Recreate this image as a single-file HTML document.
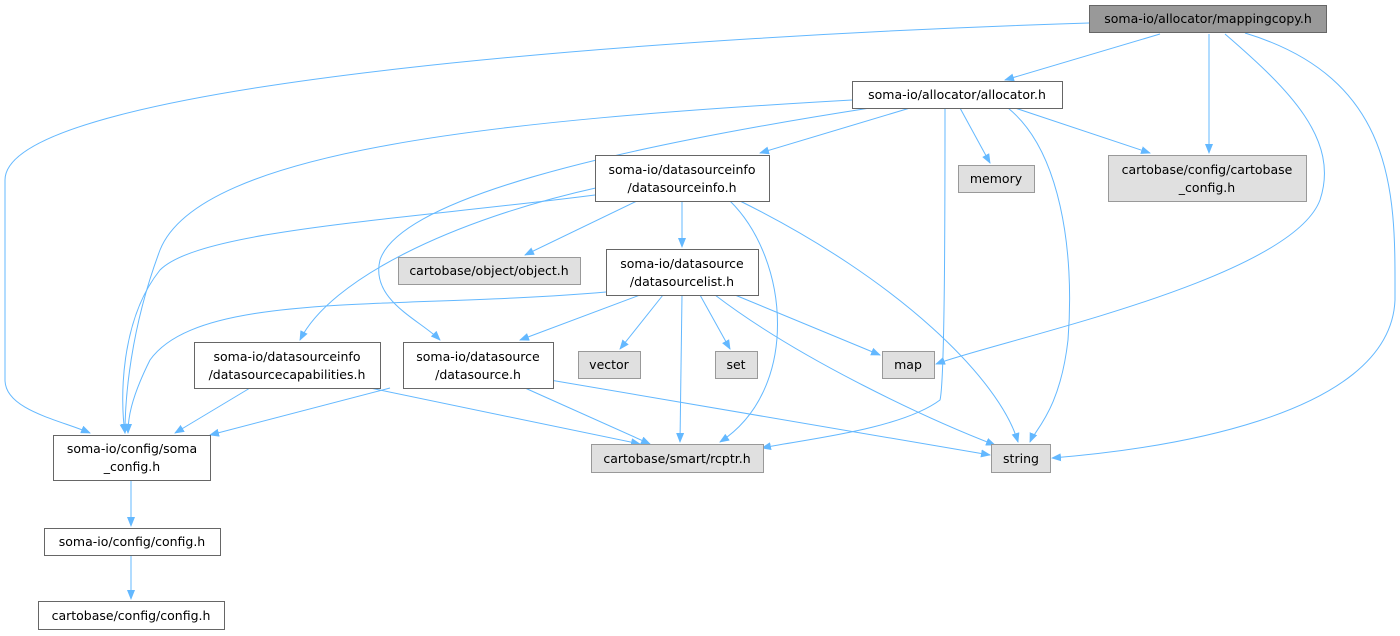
<!DOCTYPE html>
<html><head><meta charset="utf-8"><style>
html,body{margin:0;padding:0;background:#fff;}
svg{display:block;}
text{font-family:"DejaVu Sans","Liberation Sans",sans-serif;font-size:12.5px;fill:#000;}
.n rect{stroke:#666;stroke-width:1;}
.w{fill:#fff;}
.g{fill:#e0e0e0;stroke:#999 !important;}
.e{fill:none;stroke:#63b8ff;stroke-width:1;}
</style></head><body>
<svg width="1400" height="636" viewBox="0 0 1400 636" xmlns="http://www.w3.org/2000/svg">
<defs><marker id="a" markerWidth="10" markerHeight="8" refX="9" refY="4" orient="auto" markerUnits="userSpaceOnUse"><path d="M0,0 L10,4 L0,8 z" fill="#63b8ff"/></marker></defs>
<g marker-end="url(#a)">
<path class="e" d="M1089,23 C700,35 5,80 5,180 L5,380 C5,410 60,420 90,433"/>
<path class="e" d="M1160,34 L1005,80"/>
<path class="e" d="M1209,34 L1209,153"/>
<path class="e" d="M1225,34 C1290,90 1340,140 1320,200 C1290,280 1000,340 936,364"/>
<path class="e" d="M1245,33 C1400,80 1395,200 1395,300 C1390,420 1150,450 1052,458"/>
<path class="e" d="M852,100 C500,120 200,150 160,250 C130,330 125,400 125,433"/>
<path class="e" d="M910,108 L760,153"/>
<path class="e" d="M870,108 C600,150 400,200 380,260 C370,300 420,320 440,340"/>
<path class="e" d="M945,108 C945,200 945,380 940,400 C900,430 800,440 762,448"/>
<path class="e" d="M960,108 L990,163"/>
<path class="e" d="M1008,108 C1060,150 1075,250 1068,340 C1060,410 1035,430 1030,442"/>
<path class="e" d="M1015,108 L1150,153"/>
<path class="e" d="M595,195 C400,220 200,230 160,270 C120,320 120,400 125,433"/>
<path class="e" d="M600,187 C450,220 330,280 300,340"/>
<path class="e" d="M637,201 L525,255"/>
<path class="e" d="M682,201 L682,247"/>
<path class="e" d="M730,201 C790,260 800,390 720,442"/>
<path class="e" d="M740,201 C900,280 1000,380 1018,442"/>
<path class="e" d="M606,292 C400,310 200,290 150,360 C130,400 128,420 128,433"/>
<path class="e" d="M640,295 L520,340"/>
<path class="e" d="M663,295 L620,349"/>
<path class="e" d="M682,295 L680,442"/>
<path class="e" d="M700,295 L730,349"/>
<path class="e" d="M735,295 L880,355"/>
<path class="e" d="M715,295 C800,360 930,420 995,445"/>
<path class="e" d="M250,388 L175,433"/>
<path class="e" d="M370,388 L640,444"/>
<path class="e" d="M390,388 L210,435"/>
<path class="e" d="M525,388 L650,444"/>
<path class="e" d="M550,380 L990,455"/>
<path class="e" d="M131,480 L131,526"/>
<path class="e" d="M131,555 L131,599"/>
</g>
<g class="n">
<rect x="1089.5" y="5.5" width="237" height="27" fill="#999" stroke="#666"/>
<text x="1208" y="23" text-anchor="middle">soma-io/allocator/mappingcopy.h</text>
<rect class="w" x="852.5" y="81.5" width="210" height="27"/>
<text x="957" y="99" text-anchor="middle">soma-io/allocator/allocator.h</text>
<rect class="g" x="1108.5" y="155.5" width="198" height="46"/>
<text x="1207" y="174" text-anchor="middle">cartobase/config/cartobase</text>
<text x="1207" y="192" text-anchor="middle">_config.h</text>
<rect class="g" x="958.5" y="165.5" width="76" height="27"/>
<text x="996" y="183" text-anchor="middle">memory</text>
<rect class="w" x="595.5" y="155.5" width="174" height="46"/>
<text x="682" y="174" text-anchor="middle">soma-io/datasourceinfo</text>
<text x="682" y="192" text-anchor="middle">/datasourceinfo.h</text>
<rect class="g" x="398.5" y="257.5" width="182" height="27"/>
<text x="489" y="275" text-anchor="middle">cartobase/object/object.h</text>
<rect class="w" x="606.5" y="249.5" width="152" height="46"/>
<text x="682" y="268" text-anchor="middle">soma-io/datasource</text>
<text x="682" y="286" text-anchor="middle">/datasourcelist.h</text>
<rect class="w" x="194.5" y="342.5" width="186" height="46"/>
<text x="287" y="361" text-anchor="middle">soma-io/datasourceinfo</text>
<text x="287" y="379" text-anchor="middle">/datasourcecapabilities.h</text>
<rect class="w" x="403.5" y="342.5" width="150" height="46"/>
<text x="478" y="361" text-anchor="middle">soma-io/datasource</text>
<text x="478" y="379" text-anchor="middle">/datasource.h</text>
<rect class="g" x="578.5" y="351.5" width="62" height="27"/>
<text x="609" y="369" text-anchor="middle">vector</text>
<rect class="g" x="715.5" y="351.5" width="42" height="27"/>
<text x="736" y="369" text-anchor="middle">set</text>
<rect class="g" x="882.5" y="351.5" width="52" height="27"/>
<text x="908" y="369" text-anchor="middle">map</text>
<rect class="w" x="53.5" y="435.5" width="157" height="45"/>
<text x="132" y="453" text-anchor="middle">soma-io/config/soma</text>
<text x="132" y="471" text-anchor="middle">_config.h</text>
<rect class="g" x="591.5" y="444.5" width="172" height="28"/>
<text x="677" y="463" text-anchor="middle">cartobase/smart/rcptr.h</text>
<rect class="g" x="991.5" y="444.5" width="59" height="28"/>
<text x="1021" y="463" text-anchor="middle">string</text>
<rect class="w" x="44.5" y="528.5" width="176" height="27"/>
<text x="132" y="546" text-anchor="middle">soma-io/config/config.h</text>
<rect class="w" x="38.5" y="601.5" width="186" height="28"/>
<text x="131" y="620" text-anchor="middle">cartobase/config/config.h</text>
</g>
</svg>
</body></html>
